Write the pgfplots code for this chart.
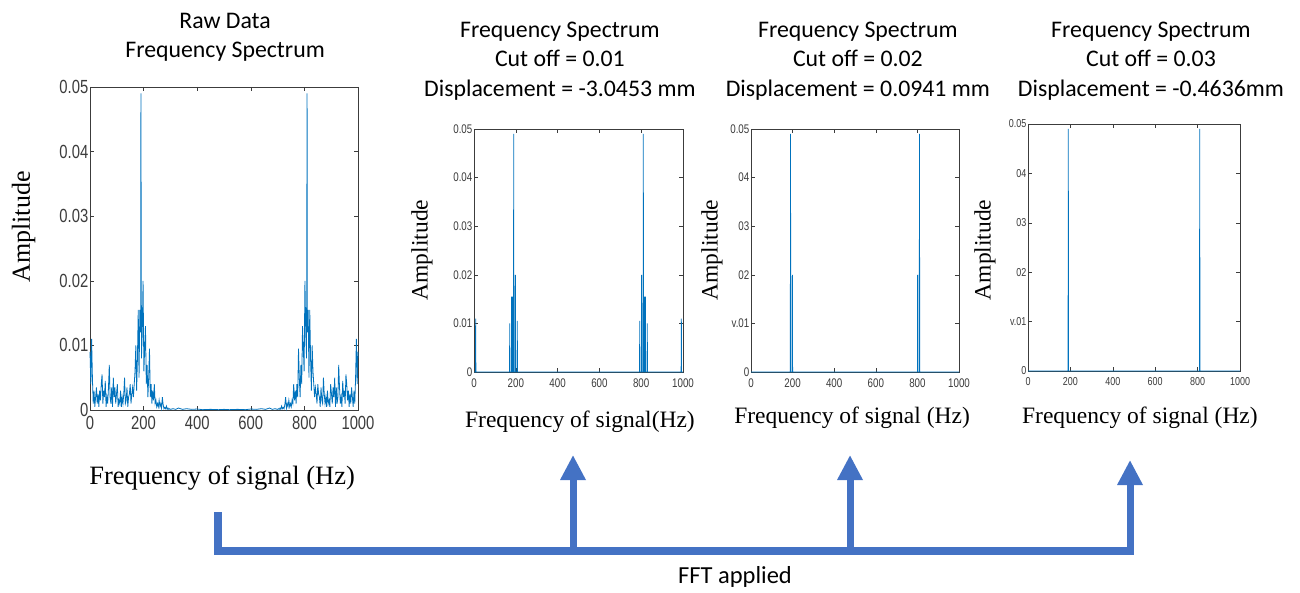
\documentclass[border=0pt]{standalone}
\usepackage{pgfplots}
\usepackage{pgfplotstable}
\pgfplotsset{compat=1.18}
\usepackage{fontspec}
\setmainfont{Liberation Serif}
\newfontfamily\calib{Carlito}
\newfontfamily\tickf[FakeStretch=0.78]{Liberation Sans}
\usetikzlibrary{arrows.meta}
\definecolor{mblue}{RGB}{0,114,189}
\definecolor{arrowblue}{RGB}{68,114,196}
\definecolor{tickgray}{RGB}{60,60,60}

\pgfplotstableread{
x y
0 .009
3 .004
6 .011
9 .005
12 .001
15 .003
18 .0005
21 .002
24 .0035
27 .001
30 .0025
33 .0005
36 .003
39 .0015
42 .004
45 .0055
48 .001
51 .003
54 .002
57 .0045
60 .0005
63 .002
66 .001
69 .0035
72 .007
75 .002
78 .001
81 .0035
84 .0005
87 .005
90 .002
93 .0035
96 .001
99 .0025
102 .004
105 .0005
108 .0015
111 .001
114 .003
117 .0005
120 .002
123 .001
126 .0025
129 .005
132 .001
135 .0015
138 .0035
141 .0005
144 .002
147 .0025
150 .004
153 .001
156 .0025
159 .0035
162 .002
165 .004
168 .006
171 .010
174 .003
177 .008
180 .0155
183 .005
186 .0155
189 .012
190 .049
192 .008
195 .012
198 .020
201 .006
204 .0095
207 .013
210 .004
213 .007
216 .002
219 .005
222 .0095
225 .002
228 .004
231 .001
234 .003
237 .0015
240 .004
243 .001
246 .0015
249 .0005
252 .001
255 .0005
258 .0015
261 .0005
264 .001
267 .0003
270 .002
273 .0008
276 .0002
279 .0004
282 .0002
285 .0006
288 .0001
291 .0003
294 .0001
297 .0002
300 .0001
310 .0002
320 .0001
330 .0003
345 .0001
360 .0002
380 .0001
400 .00015
420 .00005
450 .0001
480 .00005
500 .0001
520 .00005
550 .0001
580 .00005
600 .00015
620 .0001
640 .0002
655 .0001
670 .0003
680 .0001
690 .0002
700 .0001
703 .0002
706 .0001
709 .0003
712 .0001
715 .0006
718 .0002
721 .0004
724 .0002
727 .0008
730 .002
733 .0003
736 .001
739 .0005
742 .0015
745 .0005
748 .001
751 .0005
754 .0015
757 .001
760 .004
763 .0015
766 .003
769 .001
772 .004
775 .002
778 .0095
781 .005
784 .002
787 .007
790 .004
793 .013
796 .0095
799 .006
802 .020
805 .012
808 .008
810 .049
811 .012
814 .0155
817 .005
820 .0155
823 .008
826 .003
829 .010
832 .006
835 .004
838 .002
841 .0035
844 .0025
847 .001
850 .004
853 .0025
856 .002
859 .0005
862 .0035
865 .0015
868 .001
871 .005
874 .0025
877 .001
880 .002
883 .0005
886 .003
889 .001
892 .0015
895 .0005
898 .004
901 .0025
904 .001
907 .0035
910 .002
913 .005
916 .0005
919 .0035
922 .001
925 .002
928 .007
931 .0035
934 .001
937 .002
940 .0005
943 .0045
946 .002
949 .003
952 .001
955 .0055
958 .004
961 .0015
964 .003
967 .0005
970 .0025
973 .001
976 .0035
979 .002
982 .0005
985 .003
988 .001
991 .005
994 .011
997 .004
1000 .009
}\rawdata

\pgfplotstableread{
x y
0 0
7 0
8 .011
9 0
170 0
171 .010
172 0
179 0
180 .0155
181 0
185 0
186 .0155
187 0
189 0
190 .049
191 0
197 0
198 .020
199 0
206 0
207 .0105
208 0
792 0
793 .0105
794 0
801 0
802 .020
803 0
809 0
810 .049
811 0
813 0
814 .0155
815 0
819 0
820 .0155
821 0
828 0
829 .010
830 0
991 0
992 .011
993 0
1000 0
}\cutA

\pgfplotstableread{
x y
0 0
189 0
190 .049
191 0
198 0
199 .020
200 0
800 0
801 .020
802 0
809 0
810 .049
811 0
1000 0
}\cutB

\pgfplotstableread{
x y
0 0
189 0
190 .049
191 0
809 0
810 .049
811 0
1000 0
}\cutC

\pgfplotsset{spec/.style={
  scale only axis, anchor=south west,
  xmin=0, xmax=1000, ymin=0, ymax=0.05,
  xtick={0,200,400,600,800,1000},
  ytick={0,0.01,0.02,0.03,0.04,0.05},
  xticklabels={0,200,400,600,800,1000},
  scaled y ticks=false, scaled x ticks=false,
  tick align=inside, major tick length=4pt,
  axis line style={tickgray, line width=0.6pt},
  tick style={tickgray, line width=0.5pt},
  yticklabel style={inner sep=1.5pt},
  xticklabel style={yshift=-3pt},
  ylabel style={anchor=center},
  xlabel style={anchor=center},
  title style={anchor=center, align=center, font=\calib\fontsize{23.8}{29.5}\selectfont},
  clip=false,
}}

\begin{document}
\begin{tikzpicture}[x=1pt,y=1pt]
\useasboundingbox (0,0) rectangle (1300,592);

% Panel 1: raw data
\begin{axis}[spec, at={(90pt,182pt)}, width=268pt, height=323pt,
  yticklabels={0,0.01,0.02,0.03,0.04,0.05},
  tick label style={font=\tickf\fontsize{19}{20}\selectfont, text=tickgray},
  title={Raw Data\\Frequency Spectrum},
  title style={at={(axis description cs:0.504,1.136)}},
  ylabel={Amplitude}, ylabel style={at={(axis description cs:-0.248,0.567)}, font=\fontsize{26}{28}\selectfont},
  xlabel={Frequency of signal (Hz)}, xlabel style={at={(axis description cs:0.493,-0.212)}, font=\fontsize{26.5}{28}\selectfont},
]
\addplot[mblue, line width=0.8pt] table[x=x,y=y] {\rawdata};
\end{axis}

% Panel 2: cut off 0.01
\begin{axis}[spec, at={(474pt,220pt)}, width=209pt, height=243pt,
  yticklabels={0,0.01,0.02,0.03,0.04,0.05},
  tick label style={font=\tickf\fontsize{12.5}{13}\selectfont, text=tickgray},
  title={Frequency Spectrum\\Cut off = 0.01\\Displacement = -3.0453 mm},
  title style={at={(axis description cs:0.411,1.255)}},
  ylabel={Amplitude}, ylabel style={at={(axis description cs:-0.249,0.502)}, font=\fontsize{23.5}{25}\selectfont},
  xlabel={Frequency of signal(Hz)}, xlabel style={at={(axis description cs:0.507,-0.206)}, font=\fontsize{23.5}{25}\selectfont},
]
\addplot[mblue, line width=0.8pt] table[x=x,y=y] {\cutA};
\end{axis}

% Panel 3: cut off 0.02
\begin{axis}[spec, at={(751pt,220pt)}, width=208pt, height=243pt,
  yticklabels={0,v.01,02,03,04,0.05},
  tick label style={font=\tickf\fontsize{12.5}{13}\selectfont, text=tickgray},
  title={Frequency Spectrum\\Cut off = 0.02\\Displacement = 0.0941 mm},
  title style={at={(axis description cs:0.514,1.255)}},
  ylabel={Amplitude}, ylabel style={at={(axis description cs:-0.1875,0.502)}, font=\fontsize{23.5}{25}\selectfont},
  xlabel={Frequency of signal (Hz)}, xlabel style={at={(axis description cs:0.486,-0.19)}, font=\fontsize{23.5}{25}\selectfont},
]
\addplot[mblue, line width=0.8pt] table[x=x,y=y] {\cutB};
\end{axis}

% Panel 4: cut off 0.03
\begin{axis}[spec, at={(1028pt,221pt)}, width=212pt, height=247pt,
  yticklabels={0,v.01,02,03,04,0.05},
  tick label style={font=\tickf\fontsize{11.5}{12}\selectfont, text=tickgray},
  title={Frequency Spectrum\\Cut off = 0.03\\Displacement = -0.4636mm},
  title style={at={(axis description cs:0.58,1.231)}},
  ylabel={Amplitude}, ylabel style={at={(axis description cs:-0.203,0.49)}, font=\fontsize{23.5}{25}\selectfont},
  xlabel={Frequency of signal (Hz)}, xlabel style={at={(axis description cs:0.528,-0.19)}, font=\fontsize{23.5}{25}\selectfont},
]
\addplot[mblue, line width=0.8pt] table[x=x,y=y] {\cutC};
\end{axis}

% FFT bracket and arrows
\draw[arrowblue, line width=7.5pt, line join=miter] (218,80) -- (218,41) -- (1133.75,41);
\draw[arrowblue, line width=7pt, -{Triangle[width=24pt,length=25pt]}] (573,41) -- (573,137);
\draw[arrowblue, line width=7pt, -{Triangle[width=24pt,length=25pt]}] (850,41) -- (850,137);
\draw[arrowblue, line width=7pt, -{Triangle[width=24pt,length=25pt]}] (1130,41) -- (1130,132);
\node[font=\calib\fontsize{24.5}{26}\selectfont] at (735,15) {FFT applied};
\end{tikzpicture}
\end{document}
